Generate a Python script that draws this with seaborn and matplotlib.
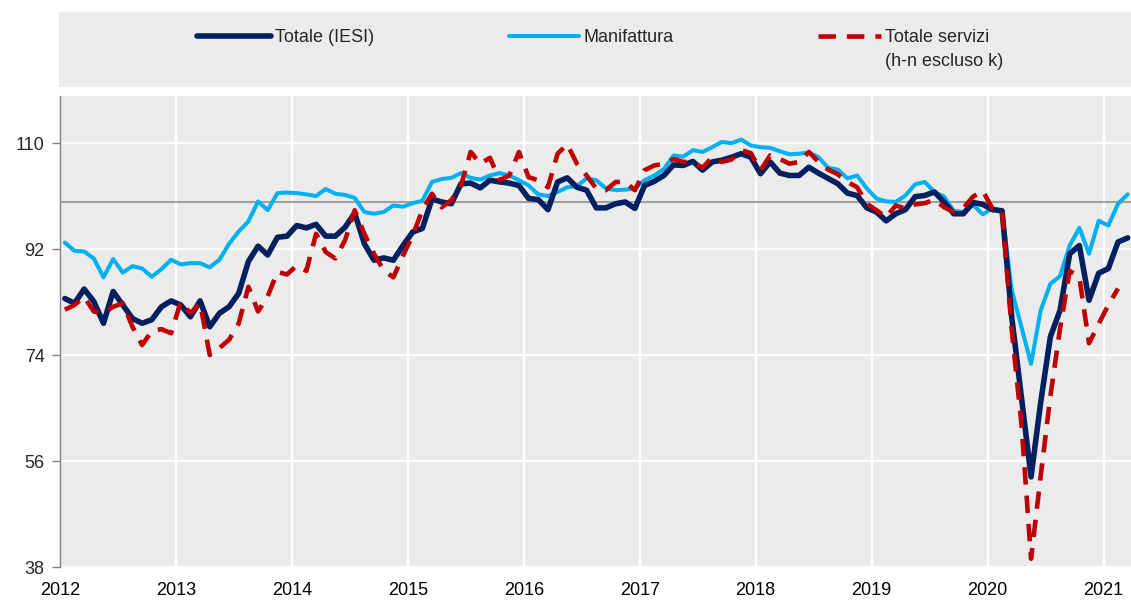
import matplotlib
matplotlib.use("Agg")
import matplotlib.pyplot as plt
from matplotlib.patches import Rectangle
from matplotlib.transforms import IdentityTransform
import numpy as np
import pandas as pd
import seaborn as sns

# monthly observations, Jan 2012 - Mar 2021
months = pd.date_range("2012-01-01", "2021-03-01", freq="MS")

totale_iesi = [
    83.6, 82.8, 85.2, 83.1, 79.4, 84.8, 82.5, 80.2, 79.4, 80.0, 82.2, 83.2,  # 2012
    82.5, 80.5, 83.2, 78.8, 81.1, 82.2, 84.5, 89.9, 92.5, 91.0, 94.0, 94.2,  # 2013
    96.0, 95.6, 96.2, 94.2, 94.2, 95.7, 98.1, 92.9, 90.1, 90.5, 90.1, 92.6,  # 2014
    94.9, 95.5, 100.5, 100.0, 99.7, 103.1, 103.2, 102.4, 103.7, 103.4, 103.2, 102.8,  # 2015
    100.6, 100.4, 98.7, 103.4, 104.1, 102.5, 102.0, 99.0, 99.0, 99.7, 100.0, 98.9,  # 2016
    102.8, 103.5, 104.5, 106.3, 106.2, 106.9, 105.4, 106.8, 107.1, 107.6, 108.2, 107.6,  # 2017
    104.8, 106.8, 104.9, 104.5, 104.5, 105.9, 104.9, 104.0, 103.1, 101.5, 101.1, 99.0,  # 2018
    98.3, 96.8, 98.0, 98.7, 100.9, 101.1, 101.7, 100.0, 98.0, 98.0, 99.9, 99.6,  # 2019
    98.7, 98.5, 80.5, 66.9, 53.3, 66.0, 77.1, 81.6, 91.2, 92.6, 83.3, 87.9,  # 2020
    88.7, 93.2, 93.9,  # 2021
]

manifattura = [
    93.1, 91.7, 91.6, 90.4, 87.2, 90.3, 88.0, 89.1, 88.7, 87.3, 88.6, 90.2,
    89.4, 89.6, 89.6, 88.9, 90.2, 92.9, 95.0, 96.7, 100.1, 98.6, 101.5, 101.6,
    101.5, 101.3, 101.0, 102.2, 101.4, 101.2, 100.7, 98.3, 98.0, 98.3, 99.4, 99.2,
    99.8, 100.2, 103.4, 103.9, 104.1, 104.9, 104.1, 103.8, 104.5, 104.9, 104.5, 103.7,
    102.8, 101.3, 101.0, 101.7, 102.5, 102.7, 104.0, 103.7, 102.3, 102.0, 102.1, 102.3,
    103.7, 104.5, 105.6, 107.9, 107.7, 108.8, 108.5, 109.3, 110.2, 110.0, 110.6, 109.6,
    109.3, 109.2, 108.6, 108.1, 108.2, 108.4, 107.6, 105.8, 105.5, 104.0, 104.5, 102.3,
    100.6, 100.1, 100.0, 101.1, 103.0, 103.4, 101.7, 100.9, 98.5, 98.3, 99.5, 97.9,
    98.9, 98.5, 85.0, 78.8, 72.5, 81.6, 86.1, 87.4, 92.6, 95.6, 91.2, 96.8,
    96.0, 99.7, 101.3,
]

# services series stops at Feb 2021
servizi = [
    81.7, 82.5, 83.9, 81.4, 81.1, 82.2, 82.8, 78.8, 75.7, 78.1, 78.4, 77.7,
    83.1, 81.1, 82.8, 74.0, 75.2, 76.6, 79.4, 85.6, 81.4, 84.0, 88.1, 87.7,
    89.2, 88.3, 94.6, 91.5, 90.4, 93.5, 98.6, 94.6, 91.2, 88.4, 87.2, 90.9,
    94.3, 98.6, 101.4, 99.1, 100.3, 102.8, 108.5, 106.5, 107.5, 103.7, 104.5, 108.5,
    104.2, 103.7, 102.5, 108.2, 109.8, 106.5, 104.5, 102.3, 102.0, 103.4, 103.4, 102.0,
    105.4, 106.2, 106.5, 107.3, 106.8, 106.8, 105.8, 107.6, 106.8, 107.2, 108.8, 108.3,
    105.4, 107.9, 107.3, 106.5, 106.8, 108.5, 106.8, 105.5, 104.7, 103.4, 102.5, 99.7,
    98.6, 97.4, 99.4, 98.9, 99.6, 99.8, 100.4, 99.1, 98.3, 99.0, 100.9, 101.9,
    98.9, 98.6, 78.2, 62.4, 39.4, 53.5, 67.0, 78.5, 88.3, 87.2, 76.0, 79.3,
    82.5, 85.3, np.nan,
]

labels = ["Totale (IESI)", "Manifattura", "Totale servizi"]
colors = ["#002060", "#00B0F0", "#C00000"]
year_ticks = list(range(2012, 2022))
y_ticks = [38, 56, 74, 92, 110]

df = pd.DataFrame({
    "t": months.year + (months.month - 0.5) / 12,
    "iesi": totale_iesi,
    "manif": manifattura,
    "serv": servizi,
})

sns.set_style("darkgrid", {"axes.facecolor": "#EBEBEB", "grid.color": "white"})
plt.rcParams["font.family"] = ["Liberation Sans Narrow", "Liberation Sans", "DejaVu Sans"]

W, H = 1131, 604
fig = plt.figure(figsize=(W / 100, H / 100), dpi=100)
ax = fig.add_axes([60 / W, 1 - 567 / H, (W - 60) / W, (567 - 96) / H])

# grey band behind the legend
fig.patches.append(Rectangle((59 / W, 1 - 86 / H), (W - 59) / W, 74 / H,
                             transform=fig.transFigure, color="#EBEBEB", zorder=0))

ax.axhline(100, color="#A0A0A0", lw=1.5, zorder=1.5)

sns.lineplot(data=df, x="t", y="serv", ax=ax, color=colors[2], lw=3.3,
             linestyle=(0, (3.8, 2.4)), zorder=3)
h_serv = ax.lines[-1]
sns.lineplot(data=df, x="t", y="manif", ax=ax, color=colors[1], lw=2.9, zorder=2)
h_manif = ax.lines[-1]
sns.lineplot(data=df, x="t", y="iesi", ax=ax, color=colors[0], lw=4.0, zorder=2.5)
h_iesi = ax.lines[-1]
for ln in (h_serv, h_manif, h_iesi):
    ln.set_solid_joinstyle("round")

ax.set_xlim(2012, 2021.237)
ax.set_ylim(38, 118)
ax.set_xticks(year_ticks)
ax.set_xticklabels([str(y) for y in year_ticks])
ax.set_yticks(y_ticks)
ax.set_xlabel("")
ax.set_ylabel("")
ax.grid(True, color="white", lw=1.6)
ax.tick_params(axis="x", length=0, pad=11, labelsize=13, colors="black")
ax.tick_params(axis="y", length=6, width=1, color="#808080", pad=5, labelsize=13, left=True)
for side in ["top", "right", "bottom"]:
    ax.spines[side].set_visible(False)
ax.spines["left"].set_visible(True)
ax.spines["left"].set_color("#808080")
ax.spines["left"].set_linewidth(1)

# legend: one entry per slot, like the original layout
legs = []
for h, lab, x0, hl in zip([h_iesi, h_manif, h_serv], labels, [197, 509, 818], [4.1, 3.9, 3.5]):
    leg = fig.legend([h], [lab], loc="center left", bbox_to_anchor=(x0 / W, 1 - 38 / H),
                     frameon=False, borderpad=0, borderaxespad=0, handlelength=hl,
                     handletextpad=0.2, fontsize=13)
    legs.append(leg)

fig.canvas.draw()
bb = legs[2].get_texts()[0].get_window_extent(fig.canvas.get_renderer())
fig.text(bb.x0, (bb.y0 + bb.y1) / 2 - 23, "(h-n escluso k)", transform=IdentityTransform(),
         va="center", ha="left", fontsize=13)

fig.savefig("out.png", dpi=100)
